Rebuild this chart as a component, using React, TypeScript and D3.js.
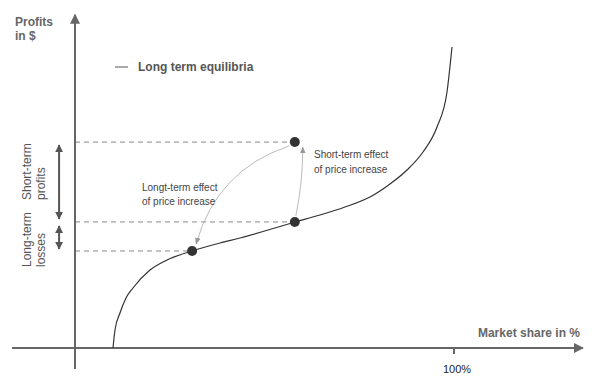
import React from "react";
import * as d3 from "d3";

// Long-term equilibrium curve: market share (%) vs profits (arbitrary units)
const curveShare = [10.03, 10.55, 11.87, 13.46, 15.3, 19.79, 24.27, 30.87, 38.26, 43.54, 58.05, 64.64, 71.24, 77.84, 83.11, 87.6, 91.82, 95.51, 98.15, 99.47];
const curveProfit = [0, 5.45, 10.61, 15.15, 18.18, 23.64, 26.67, 29.39, 31.82, 33.33, 38.18, 40.3, 42.73, 45.76, 49.7, 53.94, 59.39, 66.97, 77.58, 91.21];

// Highlighted equilibria points
const pointShare = [30.9, 58.0, 58.0];
const pointProfit = [29.4, 38.2, 62.4];

const xTicks = [100];
const xTickLabels = ["100%"];

const W = 600;
const H = 380;

export default function App() {
  const x = d3.scaleLinear().domain([0, 100]).range([75, 454]);
  const y = d3.scaleLinear().domain([0, 100]).range([348, 18]);

  const pts: [number, number][] = curveShare.map((s, i) => [s, curveProfit[i]]);
  const line = d3
    .line<[number, number]>()
    .x((d) => x(d[0]))
    .y((d) => y(d[1]))
    .curve(d3.curveMonotoneX);

  const axisColor = "#666";
  const font = "'Liberation Sans', Arial, Helvetica, sans-serif";

  const pLow = [x(pointShare[0]), y(pointProfit[0])];
  const pMid = [x(pointShare[1]), y(pointProfit[1])];
  const pTop = [x(pointShare[2]), y(pointProfit[2])];

  const arrX = x(-4.2);

  return (
    <svg width={W} height={H} style={{ position: "absolute", left: 0, top: 0 }} fontFamily={font}>
      <defs>
        <marker id="axArrow" viewBox="0 0 10 10" refX="9" refY="5" markerWidth="10" markerHeight="10" markerUnits="userSpaceOnUse" orient="auto">
          <path d="M0,0 L10,5 L0,10 z" fill={axisColor} />
        </marker>
        <marker id="dblArrow" viewBox="0 0 10 10" refX="9" refY="5" markerWidth="8" markerHeight="8" markerUnits="userSpaceOnUse" orient="auto-start-reverse">
          <path d="M0,0 L10,5 L0,10 z" fill="#555" />
        </marker>
        <marker id="grayArrow" viewBox="0 0 10 10" refX="9" refY="5" markerWidth="7" markerHeight="7" markerUnits="userSpaceOnUse" orient="auto">
          <path d="M0,1 L10,5 L0,9 z" fill="#999" />
        </marker>
      </defs>

      {/* dashed guide lines */}
      {pointProfit.map((p, i) => (
        <line key={i} x1={x(0)} x2={x(pointShare[i]) - 4} y1={y(p)} y2={y(p)} stroke="#888" strokeWidth={1} strokeDasharray="5,4" />
      ))}

      {/* axes */}
      <line x1={x(-16.6)} x2={x(134)} y1={y(0)} y2={y(0)} stroke={axisColor} strokeWidth={2} markerEnd="url(#axArrow)" />
      <line x1={x(0)} x2={x(0)} y1={y(-6.4)} y2={y(101)} stroke={axisColor} strokeWidth={2} markerEnd="url(#axArrow)" />
      {xTicks.map((t, i) => (
        <g key={t}>
          <line x1={x(t)} x2={x(t)} y1={y(0)} y2={y(0) + 6} stroke={axisColor} strokeWidth={2} />
          <text x={x(t) + 3} y={373} textAnchor="middle" fontSize={11} fill="#222">{xTickLabels[i]}</text>
        </g>
      ))}

      {/* curve */}
      <path d={line(pts) || ""} fill="none" stroke="#333" strokeWidth={1.2} />

      {/* gray effect arrows */}
      <path d={`M${pMid[0] + 1},${pMid[1] - 6} Q${pMid[0] + 8},${(pMid[1] + pTop[1]) / 2} ${pTop[0] + 8},${pTop[1] + 5}`} fill="none" stroke="#bbb" strokeWidth={1} markerEnd="url(#grayArrow)" />
      <path d={`M${pTop[0] - 6},${pTop[1] + 4} Q${pTop[0] - 78},${pTop[1] + 28} ${pLow[0] + 4},${pLow[1] - 7}`} fill="none" stroke="#bbb" strokeWidth={1} markerEnd="url(#grayArrow)" />

      {/* points */}
      {pointShare.map((s, i) => (
        <circle key={i} cx={x(s)} cy={y(pointProfit[i])} r={5} fill="#333" />
      ))}

      {/* double arrows */}
      <line x1={arrX} x2={arrX} y1={y(pointProfit[2]) + 3} y2={y(pointProfit[1]) - 3} stroke="#555" strokeWidth={2} markerStart="url(#dblArrow)" markerEnd="url(#dblArrow)" />
      <line x1={arrX} x2={arrX} y1={y(pointProfit[1]) + 4} y2={y(pointProfit[0]) - 2} stroke="#555" strokeWidth={2} markerStart="url(#dblArrow)" markerEnd="url(#dblArrow)" />

      {/* rotated side labels */}
      <g fill="#555" fontSize={12}>
        <text transform="translate(31,200) rotate(-90)">Short-term</text>
        <text transform="translate(45,200) rotate(-90)">profits</text>
        <text transform="translate(31,267) rotate(-90)">Long-term</text>
        <text transform="translate(45,267) rotate(-90)">losses</text>
      </g>

      {/* axis titles */}
      <g fill="#666" fontSize={12} fontWeight="bold">
        <text x={15} y={26}>Profits</text>
        <text x={15} y={40}>in $</text>
        <text x={580} y={337} textAnchor="end">Market share in %</text>
      </g>

      {/* legend */}
      <line x1={115} x2={128} y1={67} y2={67} stroke="#555" strokeWidth={1} />
      <text x={138} y={71} fontSize={12} fontWeight="bold" fill="#555">Long term equilibria</text>

      {/* annotations */}
      <g fill="#444" fontSize={10}>
        <text x={314} y={158}>Short-term effect</text>
        <text x={314} y={173}>of price increase</text>
        <text x={142} y={191}>Longt-term effect</text>
        <text x={142} y={205}>of price increase</text>
      </g>
    </svg>
  );
}
